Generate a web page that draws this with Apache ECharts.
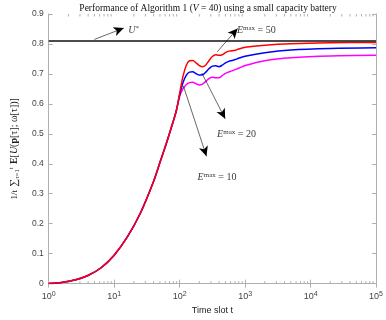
<!DOCTYPE html>
<html><head><meta charset="utf-8">
<script src="https://cdn.jsdelivr.net/npm/echarts@6/dist/echarts.min.js"></script>
<style>html,body{margin:0;padding:0;background:#fff}#c{width:386px;height:320px}</style>
</head><body><div id="c"></div>
<script>
// ---- data ----
const uStar = 0.81;
// shared part of the three curves (time slot t, value)
const commonT = [1, 1.58, 2.51, 3.98, 6.31, 10, 15.8, 25.1, 39.8, 50.1, 63.1, 79.4, 89.1];
const commonV = [0, 0.004, 0.012, 0.027, 0.053, 0.095, 0.155, 0.235, 0.34, 0.405, 0.47, 0.54, 0.578];
// after the curves separate
const redT = [100, 112, 126, 141, 158, 178, 200, 224, 251, 282, 316, 355, 398, 447, 501, 562, 631, 708, 794, 1000, 2000, 5000, 20000, 100000];
const redV = [0.635, 0.69, 0.728, 0.744, 0.745, 0.737, 0.728, 0.724, 0.73, 0.745, 0.758, 0.764, 0.762, 0.764, 0.771, 0.776, 0.777, 0.779, 0.783, 0.789, 0.796, 0.801, 0.804, 0.805];
const blueT = [100, 112, 126, 141, 158, 178, 200, 224, 251, 282, 316, 355, 398, 447, 501, 562, 631, 708, 794, 1000, 2000, 5000, 20000, 100000];
const blueV = [0.63, 0.67, 0.695, 0.706, 0.707, 0.701, 0.696, 0.697, 0.706, 0.718, 0.726, 0.727, 0.724, 0.729, 0.737, 0.742, 0.745, 0.748, 0.752, 0.759, 0.771, 0.78, 0.785, 0.787];
const pinkT = [100, 112, 126, 141, 158, 178, 200, 224, 251, 282, 316, 355, 398, 447, 501, 631, 794, 1000, 2000, 5000, 20000, 100000];
const pinkV = [0.625, 0.65, 0.664, 0.671, 0.672, 0.667, 0.663, 0.666, 0.675, 0.685, 0.689, 0.687, 0.687, 0.694, 0.702, 0.71, 0.719, 0.728, 0.744, 0.754, 0.76, 0.762];
const yTicks = [0, 0.1, 0.2, 0.3, 0.4, 0.5, 0.6, 0.7, 0.8, 0.9];
const xDecades = [0, 1, 2, 3, 4, 5];
// annotation arrows: [tailT, tailV, tipT, tipV]
const arrowU = [4.97, 0.815, 14.0, 0.853];
const arrow50 = [376, 0.774, 769, 0.852];
const arrow20 = [218, 0.703, 496, 0.55];
const arrow10 = [114, 0.66, 257, 0.425];
// annotation label anchors (left edge of text)
const labelU = [16.4, 0.846];
const label50 = [750, 0.846];
const label20 = [373, 0.498];
const label10 = [188, 0.355];

function pairs(ts, vs) { return ts.map((t, i) => [t, vs[i]]); }
const commonData = pairs(commonT, commonV);
const redData = commonData.concat(pairs(redT, redV));
const blueData = commonData.concat(pairs(blueT, blueV));
const pinkData = commonData.concat(pairs(pinkT, pinkV));
const minorTicks = [];
xDecades.slice(0, -1).forEach(d => { for (let m = 2; m <= 9; m++) minorTicks.push([m * Math.pow(10, d), 0]); });

const chart = echarts.init(document.getElementById('c'), null, {renderer: 'canvas'});
const axisGray = '#b0b0b0';
const labelColor = '#444';
const serif = '"Liberation Serif", "DejaVu Serif", serif';
const sans = '"Liberation Sans", Arial, sans-serif';

function arrowLine(a) {
  return [{coord: [a[0], a[1]]}, {coord: [a[2], a[3]]}];
}
const emaxRich = {
  e: {fontFamily: serif, fontStyle: 'italic', fontSize: 10, color: '#000'},
  sup: {fontFamily: serif, fontSize: 7, color: '#000', verticalAlign: 'bottom', padding: [0, 0, 5, 0]},
  n: {fontFamily: serif, fontSize: 10, color: '#000'}
};

chart.setOption({
  animation: false,
  backgroundColor: '#fff',
  title: {
    text: '{n|Performance of Algorithm 1 (}{i|V}{n| = 40) using a small capacity battery}',
    left: 203, top: -2, textAlign: 'center',
    textStyle: {
      fontWeight: 'normal',
      rich: {
        n: {fontFamily: serif, fontSize: 9.5, fontWeight: 'normal', color: '#111'},
        i: {fontFamily: serif, fontSize: 9.5, fontWeight: 'normal', fontStyle: 'italic', color: '#111'}
      }
    }
  },
  grid: {left: 28, right: 8, top: 14, bottom: 30, containLabel: false},
  xAxis: [{
    type: 'log', logBase: 10, min: 1, max: 100000,
    name: 'Time slot t', nameLocation: 'middle', nameGap: 21,
    nameTextStyle: {fontFamily: sans, fontSize: 9, color: '#222'},
    axisLine: {lineStyle: {color: axisGray, width: 1}},
    axisTick: {inside: true, length: 4, lineStyle: {color: axisGray}},
    splitLine: {show: false},
    axisLabel: {
      margin: 7,
      formatter: v => '{b|10}{s|' + Math.round(Math.log10(v)) + '}',
      rich: {
        b: {fontFamily: sans, fontSize: 9, color: labelColor},
        s: {fontFamily: sans, fontSize: 7, color: labelColor, verticalAlign: 'bottom', padding: [0, 0, 5, 0]}
      }
    }
  }, {
    type: 'log', logBase: 10, min: 1, max: 100000, position: 'top',
    axisLine: {lineStyle: {color: axisGray, width: 1}},
    axisTick: {inside: true, length: 4, lineStyle: {color: axisGray}},
    axisLabel: {show: false}, splitLine: {show: false}
  }],
  yAxis: [{
    type: 'value', min: 0, max: 0.9, interval: 0.1,
    name: '{f|1/t} {s|∑}{l|τ=1}{sp|t} {b|E}{n|[}{i|U}{n|(}{b|p}{n|[τ]; ω[τ])]}',
    nameLocation: 'middle', nameGap: 19, nameRotate: 90,
    nameTextStyle: {
      rich: {
        f: {fontFamily: serif, fontSize: 9, color: '#222'},
        s: {fontFamily: serif, fontSize: 11, color: '#222'},
        l: {fontFamily: serif, fontSize: 6.5, color: '#222', verticalAlign: 'top', padding: [6, 0, 0, 0]},
        sp: {fontFamily: serif, fontSize: 6.5, color: '#222', verticalAlign: 'bottom', padding: [0, 0, 6, 0]},
        b: {fontFamily: serif, fontSize: 10, fontWeight: 'bold', color: '#222'},
        i: {fontFamily: serif, fontSize: 10, fontStyle: 'italic', color: '#222'},
        n: {fontFamily: serif, fontSize: 10, color: '#222'}
      }
    },
    axisLine: {show: true, lineStyle: {color: axisGray, width: 1}},
    axisTick: {show: true, inside: true, length: 4, lineStyle: {color: axisGray}},
    splitLine: {show: false},
    axisLabel: {
      margin: 5, fontFamily: sans, fontSize: 8.5, color: labelColor,
      formatter: v => (yTicks.some(t => Math.abs(t - v) < 1e-9) ? String(+v.toFixed(1)) : '')
    }
  }, {
    type: 'value', min: 0, max: 0.9, interval: 0.1, position: 'right',
    axisLine: {show: true, lineStyle: {color: axisGray, width: 1}},
    axisTick: {show: true, inside: true, length: 4, lineStyle: {color: axisGray}},
    axisLabel: {show: false}, splitLine: {show: false}
  }],
  series: [
    {
      type: 'custom', xAxisIndex: 0, yAxisIndex: 0, silent: true, clip: false,
      data: minorTicks,
      renderItem: (params, api) => {
        const b = api.coord([api.value(0), 0]);
        const t = api.coord([api.value(0), 0.9]);
        return {
          type: 'group',
          children: [
            {type: 'line', shape: {x1: b[0], y1: b[1], x2: b[0], y2: b[1] - 2.5}, style: {stroke: axisGray, lineWidth: 1}},
            {type: 'line', shape: {x1: t[0], y1: t[1], x2: t[0], y2: t[1] + 2.5}, style: {stroke: axisGray, lineWidth: 1}}
          ]
        };
      }
    },
    {type: 'line', name: 'Emax=10', data: pinkData, smooth: 0.3, symbol: 'none',
     lineStyle: {color: '#ff00ff', width: 1.5}},
    {type: 'line', name: 'Emax=20', data: blueData, smooth: 0.3, symbol: 'none',
     lineStyle: {color: '#0000ff', width: 1.5}},
    {type: 'line', name: 'Emax=50', data: redData, smooth: 0.3, symbol: 'none',
     lineStyle: {color: '#ff0000', width: 1.5}},
    {type: 'line', name: 'U*', data: [[1, uStar], [100000, uStar]], symbol: 'none',
     lineStyle: {color: '#111', width: 1.5},
     markLine: {
       silent: true, symbol: ['none', 'arrow'], symbolSize: [7, 10], animation: false,
       lineStyle: {color: '#000', width: 0.6, type: 'solid', opacity: 1},
       itemStyle: {color: '#000'},
       label: {show: false},
       data: [arrowLine(arrowU), arrowLine(arrow50), arrowLine(arrow20), arrowLine(arrow10)]
     }},
    {type: 'scatter', symbolSize: 0, silent: true,
     data: [
       {value: labelU, label: {show: true, position: 'right', distance: 0,
         formatter: '{u|U}{s|*}',
         rich: {u: {fontFamily: serif, fontStyle: 'italic', fontSize: 10, color: '#000'},
                s: {fontFamily: serif, fontSize: 7, color: '#000', verticalAlign: 'bottom', padding: [0, 0, 5, 0]}}}},
       {value: label50, label: {show: true, position: 'right', distance: 0, formatter: '{e|E}{sup|max}{n| = 50}', rich: emaxRich}},
       {value: label20, label: {show: true, position: 'right', distance: 0, formatter: '{e|E}{sup|max}{n| = 20}', rich: emaxRich}},
       {value: label10, label: {show: true, position: 'right', distance: 0, formatter: '{e|E}{sup|max}{n| = 10}', rich: emaxRich}}
     ]}
  ]
});
</script></body></html>
